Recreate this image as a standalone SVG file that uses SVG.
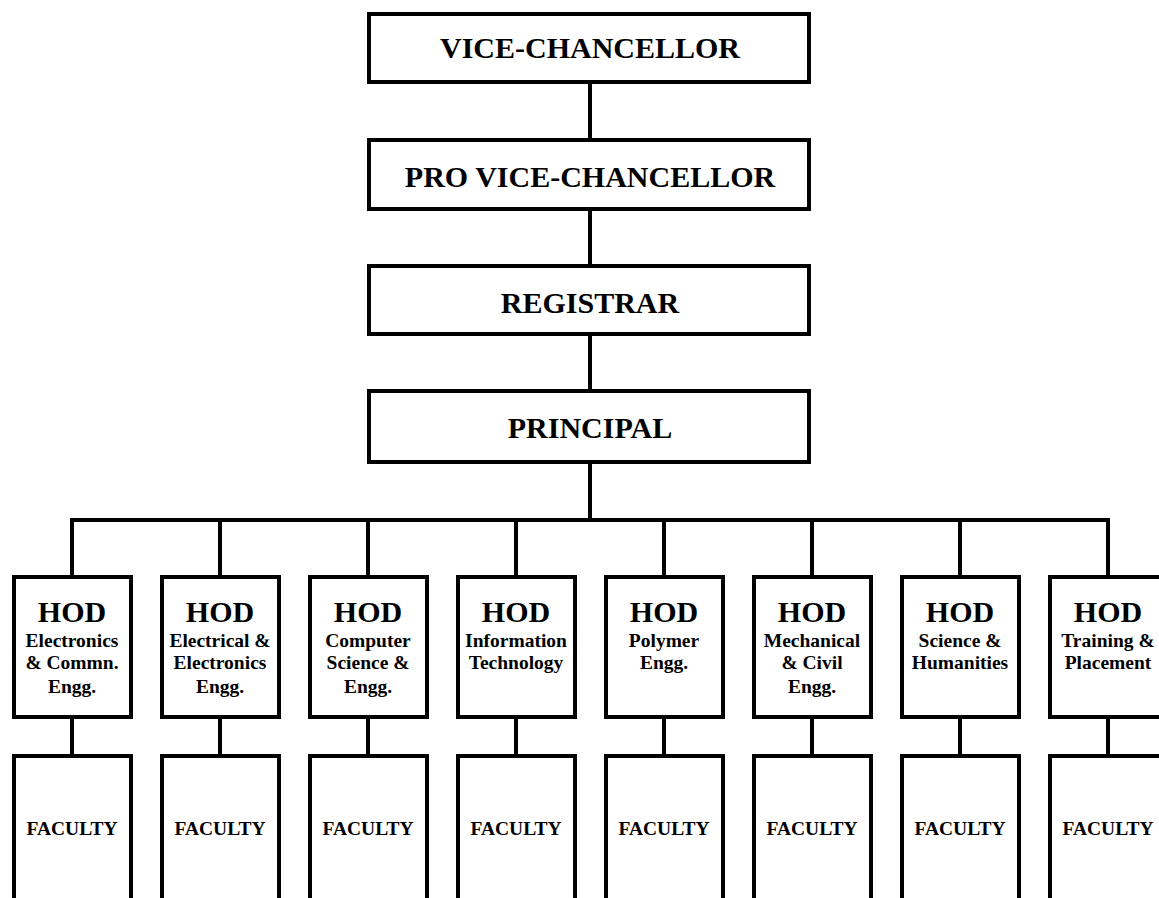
<svg xmlns="http://www.w3.org/2000/svg" width="1159" height="898" viewBox="0 0 1159 898">
<style>
.box{fill:#fff;stroke:#000;stroke-width:4}
.ln{stroke:#000;stroke-width:4;fill:none}
text{font-family:"Liberation Serif","Times New Roman",serif;font-weight:bold;fill:#000;text-anchor:middle}
.t1{font-size:30px}
.hod{font-size:30px}
.sub{font-size:19.5px}
.fac{font-size:19.5px}
</style>
<rect width="1159" height="898" fill="#fff"/>
<g id="connectors">
<path class="ln" d="M590 82V139M590 209V266M590 334V391M590 462V520M72 520H1108"/>
<path class="ln" d="M72 518V577M220 518V577M368 518V577M516 518V577M664 518V577M812 518V577M960 518V577M1108 518V577"/>
<path class="ln" d="M72 717V756M220 717V756M368 717V756M516 717V756M664 717V756M812 717V756M960 717V756M1108 717V756"/>
</g>
<g id="vc"><rect class="box" x="369" y="14" width="440" height="68"/><text class="t1" x="590" y="58">VICE-CHANCELLOR</text></g>
<g id="pvc"><rect class="box" x="369" y="140" width="440" height="69"/><text class="t1" x="590" y="187">PRO VICE-CHANCELLOR</text></g>
<g id="registrar"><rect class="box" x="369" y="266" width="440" height="68"/><text class="t1" x="590" y="313">REGISTRAR</text></g>
<g id="principal"><rect class="box" x="369" y="391" width="440" height="71"/><text class="t1" x="590" y="438">PRINCIPAL</text></g>
<g id="hod1"><rect class="box" x="14" y="577" width="117" height="140"/><text class="hod" x="72" y="622">HOD</text><text class="sub" x="72" y="647">Electronics</text><text class="sub" x="72" y="669">&amp; Commn.</text><text class="sub" x="72" y="693">Engg.</text></g>
<g id="hod2"><rect class="box" x="162" y="577" width="117" height="140"/><text class="hod" x="220" y="622">HOD</text><text class="sub" x="220" y="647">Electrical &amp;</text><text class="sub" x="220" y="669">Electronics</text><text class="sub" x="220" y="693">Engg.</text></g>
<g id="hod3"><rect class="box" x="310" y="577" width="117" height="140"/><text class="hod" x="368" y="622">HOD</text><text class="sub" x="368" y="647">Computer</text><text class="sub" x="368" y="669">Science &amp;</text><text class="sub" x="368" y="693">Engg.</text></g>
<g id="hod4"><rect class="box" x="458" y="577" width="117" height="140"/><text class="hod" x="516" y="622">HOD</text><text class="sub" x="516" y="647">Information</text><text class="sub" x="516" y="669">Technology</text></g>
<g id="hod5"><rect class="box" x="606" y="577" width="117" height="140"/><text class="hod" x="664" y="622">HOD</text><text class="sub" x="664" y="647">Polymer</text><text class="sub" x="664" y="669">Engg.</text></g>
<g id="hod6"><rect class="box" x="754" y="577" width="117" height="140"/><text class="hod" x="812" y="622">HOD</text><text class="sub" x="812" y="647">Mechanical</text><text class="sub" x="812" y="669">&amp; Civil</text><text class="sub" x="812" y="693">Engg.</text></g>
<g id="hod7"><rect class="box" x="902" y="577" width="117" height="140"/><text class="hod" x="960" y="622">HOD</text><text class="sub" x="960" y="647">Science &amp;</text><text class="sub" x="960" y="669">Humanities</text></g>
<g id="hod8"><rect class="box" x="1050" y="577" width="117" height="140"/><text class="hod" x="1108" y="622">HOD</text><text class="sub" x="1108" y="647">Training &amp;</text><text class="sub" x="1108" y="669">Placement</text></g>
<g id="fac1"><rect class="box" x="14" y="756" width="117" height="150"/><text class="fac" x="72" y="835">FACULTY</text></g>
<g id="fac2"><rect class="box" x="162" y="756" width="117" height="150"/><text class="fac" x="220" y="835">FACULTY</text></g>
<g id="fac3"><rect class="box" x="310" y="756" width="117" height="150"/><text class="fac" x="368" y="835">FACULTY</text></g>
<g id="fac4"><rect class="box" x="458" y="756" width="117" height="150"/><text class="fac" x="516" y="835">FACULTY</text></g>
<g id="fac5"><rect class="box" x="606" y="756" width="117" height="150"/><text class="fac" x="664" y="835">FACULTY</text></g>
<g id="fac6"><rect class="box" x="754" y="756" width="117" height="150"/><text class="fac" x="812" y="835">FACULTY</text></g>
<g id="fac7"><rect class="box" x="902" y="756" width="117" height="150"/><text class="fac" x="960" y="835">FACULTY</text></g>
<g id="fac8"><rect class="box" x="1050" y="756" width="117" height="150"/><text class="fac" x="1108" y="835">FACULTY</text></g>
</svg>
